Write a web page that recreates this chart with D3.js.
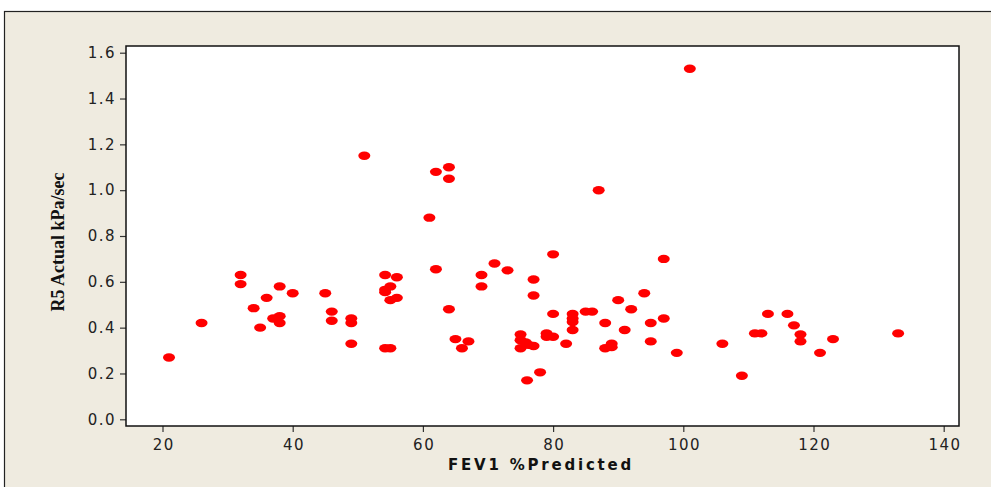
<!DOCTYPE html>
<html><head><meta charset="utf-8">
<script src="https://cdn.jsdelivr.net/npm/d3@7"></script>
<style>html,body{margin:0;padding:0;background:#fff;}svg{display:block;}</style>
</head><body>
<svg id="c" width="991" height="487"></svg>
<script>
const fev = [21,26,32,32,34,35,36,37,38,38,38,40,45,46,46,49,49,49,51,54.2,56,54.2,54.2,55,56,55,54.2,55,61,62,62,64,64,64,65,66,67,69,69,71,73,75,75,75.8,75,76.2,77,76,77,77,78,79,79,80,80,80,82,83,83,83,83,85,86,87,88,88,89,89,90,91,92,94,95,95,97,97,99,101,106,109,111,112,113,116,117,118,118,121,123,133];
const r5 = [0.27,0.42,0.63,0.59,0.485,0.40,0.53,0.44,0.58,0.45,0.42,0.55,0.55,0.47,0.43,0.44,0.42,0.33,1.15,0.63,0.62,0.565,0.555,0.58,0.53,0.52,0.31,0.31,0.88,1.08,0.655,1.10,1.05,0.48,0.35,0.31,0.34,0.63,0.58,0.68,0.65,0.37,0.345,0.335,0.31,0.325,0.32,0.17,0.61,0.54,0.205,0.375,0.36,0.36,0.72,0.46,0.33,0.46,0.44,0.425,0.39,0.47,0.47,1.00,0.42,0.31,0.33,0.315,0.52,0.39,0.48,0.55,0.42,0.34,0.70,0.44,0.29,1.53,0.33,0.19,0.375,0.375,0.46,0.46,0.41,0.37,0.34,0.29,0.35,0.375];
const xTicks = [20,40,60,80,100,120,140];
const yTicks = [0,0.2,0.4,0.6,0.8,1.0,1.2,1.4,1.6];
const xTitle = "FEV1 %Predicted";
const yTitle = "R5 Actual kPa/sec";

const svg = d3.select("#c");
// outer frame
svg.append("rect").attr("x",4.5).attr("y",11.5).attr("width",1000).attr("height",500)
  .attr("fill","#efebe0").attr("stroke","#222").attr("stroke-width",1.2);

const L=126, R=959, T=46, B=426;
const x = d3.scaleLinear().domain([20,140]).range([162.5,943.7]);
const y = d3.scaleLinear().domain([0,1.6]).range([419.3,52.7]);

svg.append("rect").attr("x",L).attr("y",T).attr("width",R-L).attr("height",B-T)
  .attr("fill","#fff");

const gy = svg.append("g").attr("transform",`translate(${L},0)`)
  .call(d3.axisLeft(y).tickValues(yTicks).tickFormat(d3.format(".1f")).tickSize(6).tickPadding(4));
const gx = svg.append("g").attr("transform",`translate(0,${B})`)
  .call(d3.axisBottom(x).tickValues(xTicks).tickFormat(d3.format("d")).tickSize(6).tickPadding(7));
[gx,gy].forEach(g=>{
  g.select(".domain").remove();
  g.selectAll("line").attr("stroke","#333").attr("stroke-width",1.2);
  g.selectAll("text").attr("font-family","DejaVu Sans, Verdana, sans-serif").attr("font-size",15)
    .attr("fill","#222").style("letter-spacing","1.5px");
});
gx.selectAll("text").attr("dx","0.75px");

svg.append("g").selectAll("ellipse").data(fev.map((v,i)=>[v,r5[i]])).join("ellipse")
  .attr("cx",d=>x(d[0])).attr("cy",d=>y(d[1])).attr("rx",6).attr("ry",4.2).attr("fill","#ff0000");

svg.append("rect").attr("x",L).attr("y",T).attr("width",R-L).attr("height",B-T)
  .attr("fill","none").attr("stroke","#111").attr("stroke-width",1.5);

svg.append("text").attr("x",541).attr("y",470).attr("text-anchor","middle")
  .attr("font-family","DejaVu Sans, Verdana, sans-serif").attr("font-weight","bold").attr("font-size",15)
  .style("letter-spacing","2.8px").attr("fill","#111").text(xTitle);
svg.append("text").attr("transform","translate(64,242) rotate(-90)").attr("text-anchor","middle")
  .attr("font-family","Liberation Serif, Times New Roman, serif").attr("font-weight","bold").attr("font-size",18)
  .attr("fill","#111").text(yTitle);
</script>
</body></html>
